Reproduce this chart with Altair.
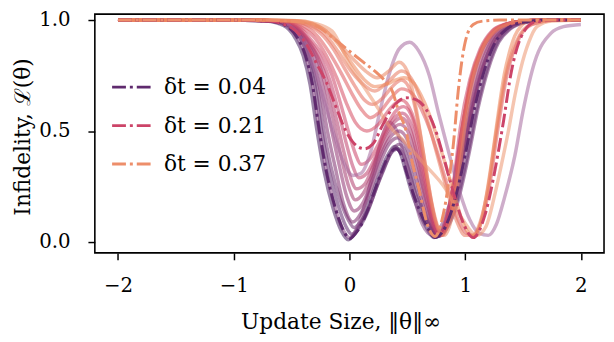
import altair as alt
import pandas as pd

# ---------------- data ----------------
# highlighted dash-dot curves
dt_labels = ["δt = 0.04", "δt = 0.21", "δt = 0.37"]

x_004 = [-2, -1, -0.7, -0.55, -0.45, -0.38, -0.32, -0.26, -0.2, -0.12, -0.05, 0, 0.07, 0.14, 0.21, 0.28, 0.34, 0.40, 0.45, 0.49, 0.55, 0.6, 0.67, 0.74, 0.81, 0.9, 1.0, 1.08, 1.17, 1.26, 1.36, 1.5, 1.7, 2]
y_004 = [1, 1, 0.995, 0.975, 0.92, 0.84, 0.71, 0.5, 0.32, 0.15, 0.05, 0.015, 0.05, 0.12, 0.22, 0.32, 0.39, 0.42, 0.39, 0.32, 0.22, 0.15, 0.07, 0.02, 0.05, 0.17, 0.39, 0.6, 0.78, 0.9, 0.96, 0.99, 1, 1]

x_021 = [-2, -1, -0.7, -0.5, -0.37, -0.28, -0.2, -0.11, -0.04, 0.03, 0.13, 0.2, 0.29, 0.38, 0.49, 0.58, 0.66, 0.74, 0.82, 0.9, 0.98, 1.07, 1.17, 1.26, 1.33, 1.4, 1.48, 1.6, 1.8, 2]
y_021 = [1, 1, 0.995, 0.965, 0.89, 0.8, 0.72, 0.6, 0.51, 0.45, 0.42, 0.44, 0.53, 0.61, 0.65, 0.64, 0.6, 0.51, 0.37, 0.22, 0.09, 0.02, 0.12, 0.33, 0.54, 0.77, 0.92, 0.99, 1, 1]

x_037 = [-2, -1, -0.6, -0.4, -0.26, -0.12, 0.0, 0.12, 0.23, 0.3, 0.37, 0.43, 0.49, 0.53, 0.6, 0.68, 0.74, 0.8, 0.85, 0.9, 0.94, 1.0, 1.07, 1.15, 1.3, 2]
y_037 = [1, 1, 0.998, 0.99, 0.965, 0.91, 0.86, 0.81, 0.765, 0.73, 0.68, 0.58, 0.5, 0.39, 0.24, 0.07, 0.025, 0.1, 0.24, 0.45, 0.68, 0.9, 0.98, 0.995, 1, 1]

dt_x = [x_004, x_021, x_037]
dt_y = [y_004, y_021, y_037]

# background family of curves
bg_names = ["c01", "c02", "c03", "c04", "c05", "c06", "c07", "c08", "c09",
            "c10", "c11", "c12", "c13", "c14", "c15", "c16", "c17", "c18"]

bg_x = [
    [-2, -1, -0.72, -0.57, -0.47, -0.4, -0.34, -0.28, -0.22, -0.14, -0.07, -0.01, 0.06, 0.13, 0.2, 0.27, 0.33, 0.39, 0.44, 0.48, 0.54, 0.59, 0.66, 0.73, 0.8, 0.89, 0.98, 1.06, 1.15, 1.24, 1.34, 1.48, 1.7, 2],
    [-2, -1, -0.68, -0.53, -0.43, -0.36, -0.3, -0.24, -0.18, -0.1, -0.03, 0.02, 0.09, 0.16, 0.23, 0.3, 0.36, 0.42, 0.47, 0.51, 0.57, 0.62, 0.69, 0.76, 0.83, 0.92, 1.02, 1.1, 1.19, 1.28, 1.38, 1.52, 1.72, 2],
    [-2, -1, -0.67, -0.52, -0.42, -0.35, -0.28, -0.22, -0.16, -0.08, -0.01, 0.04, 0.11, 0.18, 0.25, 0.32, 0.38, 0.43, 0.48, 0.52, 0.58, 0.63, 0.7, 0.77, 0.84, 0.93, 1.03, 1.11, 1.2, 1.29, 1.39, 1.53, 1.73, 2],
    [-2, -1, -0.7, -0.55, -0.45, -0.38, -0.32, -0.26, -0.2, -0.12, -0.05, 0.0, 0.07, 0.14, 0.21, 0.28, 0.34, 0.41, 0.48, 0.55, 0.63, 0.72, 0.8, 0.88, 0.97, 1.05, 1.14, 1.23, 1.33, 1.47, 1.7, 2],
    [-2, -1, -0.66, -0.5, -0.4, -0.32, -0.25, -0.19, -0.12, -0.05, 0.03, 0.1, 0.18, 0.26, 0.34, 0.42, 0.5, 0.57, 0.64, 0.7, 0.76, 0.83, 0.92, 1.0, 1.08, 1.17, 1.27, 1.38, 1.52, 1.72, 2],
    [-2, -1, -0.65, -0.49, -0.38, -0.3, -0.23, -0.16, -0.09, -0.02, 0.04, 0.11, 0.19, 0.27, 0.35, 0.43, 0.51, 0.58, 0.65, 0.71, 0.77, 0.84, 0.92, 1.0, 1.08, 1.17, 1.27, 1.38, 1.52, 1.72, 2],
    [-2, -1, -0.64, -0.48, -0.37, -0.28, -0.21, -0.14, -0.07, 0.0, 0.05, 0.12, 0.2, 0.28, 0.36, 0.44, 0.52, 0.59, 0.66, 0.72, 0.77, 0.84, 0.91, 0.98, 1.06, 1.15, 1.25, 1.36, 1.5, 1.7, 2],
    [-2, -1, -0.63, -0.47, -0.36, -0.27, -0.19, -0.12, -0.05, 0.01, 0.06, 0.13, 0.21, 0.29, 0.37, 0.45, 0.53, 0.6, 0.67, 0.72, 0.77, 0.83, 0.9, 0.97, 1.05, 1.14, 1.24, 1.35, 1.5, 1.7, 2],
    [-2, -1, -0.62, -0.46, -0.35, -0.25, -0.17, -0.1, -0.03, 0.03, 0.08, 0.15, 0.23, 0.31, 0.39, 0.46, 0.54, 0.61, 0.68, 0.73, 0.78, 0.84, 0.9, 0.97, 1.05, 1.14, 1.24, 1.35, 1.5, 1.7, 2],
    [-2, -1, -0.6, -0.44, -0.33, -0.23, -0.15, -0.08, -0.01, 0.05, 0.1, 0.17, 0.25, 0.33, 0.4, 0.47, 0.55, 0.62, 0.68, 0.73, 0.78, 0.84, 0.9, 0.96, 1.04, 1.13, 1.23, 1.34, 1.5, 1.7, 2],
    [-2, -1, -0.62, -0.48, -0.38, -0.29, -0.21, -0.13, -0.05, 0.03, 0.1, 0.18, 0.26, 0.34, 0.43, 0.52, 0.6, 0.69, 0.77, 0.86, 0.95, 1.04, 1.12, 1.2, 1.27, 1.34, 1.43, 1.5, 1.6, 1.74, 1.85, 2.0],
    [-2, -1, -0.58, -0.42, -0.3, -0.2, -0.11, -0.03, 0.05, 0.15, 0.25, 0.35, 0.45, 0.54, 0.62, 0.69, 0.75, 0.8, 0.86, 0.92, 0.98, 1.05, 1.14, 1.24, 1.35, 1.5, 1.7, 2],
    [-2, -1, -0.56, -0.4, -0.28, -0.17, -0.07, 0.02, 0.1, 0.18, 0.27, 0.36, 0.45, 0.54, 0.62, 0.7, 0.78, 0.86, 0.94, 1.01, 1.07, 1.14, 1.21, 1.28, 1.36, 1.45, 1.58, 1.8, 2],
    [-2, -1, -0.54, -0.38, -0.25, -0.14, -0.04, 0.05, 0.13, 0.2, 0.29, 0.37, 0.45, 0.53, 0.6, 0.67, 0.74, 0.8, 0.86, 0.92, 0.98, 1.05, 1.14, 1.24, 1.35, 1.5, 1.7, 2],
    [-2, -1, -0.52, -0.36, -0.22, -0.1, 0.0, 0.1, 0.22, 0.33, 0.45, 0.53, 0.61, 0.69, 0.77, 0.85, 0.93, 1.0, 1.06, 1.13, 1.2, 1.27, 1.35, 1.44, 1.57, 1.8, 2],
    [-2, -1, -0.5, -0.34, -0.2, -0.08, 0.04, 0.14, 0.24, 0.34, 0.43, 0.5, 0.57, 0.64, 0.71, 0.77, 0.82, 0.88, 0.94, 1.0, 1.07, 1.16, 1.26, 1.37, 1.5, 1.7, 2],
    [-2, -1, -0.45, -0.3, -0.15, 0.0, 0.15, 0.25, 0.32, 0.48, 0.65, 0.83, 0.98, 1.1, 1.18, 1.25, 1.31, 1.37, 1.43, 1.48, 1.55, 1.62, 1.75, 2],
    [-2, -1, -0.45, -0.32, -0.2, -0.08, 0.04, 0.13, 0.22, 0.32, 0.4, 0.47, 0.55, 0.62, 0.68, 0.74, 0.8, 0.87, 0.93, 0.98, 1.03, 1.07, 1.12, 1.17, 1.22, 1.26, 1.3, 1.34, 1.38, 1.43, 1.48, 1.54, 1.7, 2],
]

bg_y = [
    [1, 1, 0.995, 0.975, 0.92, 0.84, 0.71, 0.5, 0.32, 0.15, 0.05, 0.01, 0.05, 0.12, 0.22, 0.32, 0.39, 0.43, 0.40, 0.33, 0.22, 0.15, 0.07, 0.02, 0.05, 0.17, 0.39, 0.6, 0.78, 0.9, 0.96, 0.99, 1, 1],
    [1, 1, 0.995, 0.975, 0.92, 0.84, 0.71, 0.5, 0.33, 0.17, 0.07, 0.035, 0.07, 0.14, 0.24, 0.33, 0.4, 0.42, 0.39, 0.33, 0.22, 0.15, 0.07, 0.025, 0.06, 0.17, 0.39, 0.6, 0.78, 0.9, 0.96, 0.99, 1, 1],
    [1, 1, 0.995, 0.975, 0.92, 0.84, 0.7, 0.5, 0.34, 0.19, 0.1, 0.065, 0.1, 0.17, 0.27, 0.36, 0.42, 0.44, 0.41, 0.34, 0.23, 0.15, 0.07, 0.025, 0.06, 0.17, 0.39, 0.6, 0.78, 0.9, 0.96, 0.99, 1, 1],
    [1, 1, 0.995, 0.975, 0.92, 0.84, 0.71, 0.5, 0.32, 0.15, 0.05, 0.02, 0.07, 0.18, 0.33, 0.47, 0.54, 0.5, 0.37, 0.22, 0.08, 0.03, 0.08, 0.2, 0.42, 0.62, 0.8, 0.91, 0.97, 0.995, 1, 1],
    [1, 1, 0.995, 0.97, 0.91, 0.82, 0.68, 0.5, 0.33, 0.17, 0.09, 0.13, 0.23, 0.35, 0.44, 0.47, 0.42, 0.3, 0.16, 0.07, 0.03, 0.07, 0.2, 0.42, 0.63, 0.8, 0.91, 0.97, 0.995, 1, 1],
    [1, 1, 0.995, 0.97, 0.91, 0.83, 0.7, 0.52, 0.35, 0.2, 0.14, 0.17, 0.27, 0.39, 0.47, 0.5, 0.45, 0.33, 0.18, 0.08, 0.03, 0.08, 0.22, 0.45, 0.66, 0.82, 0.92, 0.97, 0.995, 1, 1],
    [1, 1, 0.995, 0.97, 0.91, 0.83, 0.71, 0.55, 0.38, 0.24, 0.19, 0.22, 0.31, 0.42, 0.5, 0.53, 0.48, 0.35, 0.19, 0.08, 0.03, 0.09, 0.24, 0.47, 0.68, 0.84, 0.93, 0.98, 0.995, 1, 1],
    [1, 1, 0.995, 0.97, 0.91, 0.83, 0.72, 0.57, 0.41, 0.29, 0.24, 0.26, 0.35, 0.46, 0.53, 0.56, 0.5, 0.36, 0.19, 0.08, 0.03, 0.1, 0.26, 0.5, 0.71, 0.86, 0.94, 0.98, 0.995, 1, 1],
    [1, 1, 0.995, 0.97, 0.91, 0.83, 0.73, 0.6, 0.45, 0.34, 0.29, 0.31, 0.39, 0.49, 0.56, 0.58, 0.52, 0.37, 0.2, 0.08, 0.03, 0.1, 0.26, 0.5, 0.71, 0.86, 0.94, 0.98, 0.995, 1, 1],
    [1, 1, 0.995, 0.97, 0.91, 0.84, 0.75, 0.63, 0.5, 0.4, 0.35, 0.37, 0.44, 0.53, 0.59, 0.61, 0.55, 0.39, 0.21, 0.09, 0.03, 0.1, 0.27, 0.52, 0.73, 0.87, 0.95, 0.98, 0.995, 1, 1],
    [1, 1, 0.995, 0.96, 0.88, 0.76, 0.62, 0.48, 0.36, 0.3, 0.31, 0.4, 0.58, 0.75, 0.87, 0.9, 0.86, 0.75, 0.58, 0.4, 0.23, 0.1, 0.04, 0.03, 0.08, 0.2, 0.39, 0.59, 0.81, 0.94, 0.97, 0.98],
    [1, 1, 0.995, 0.97, 0.92, 0.84, 0.74, 0.63, 0.54, 0.5, 0.53, 0.6, 0.64, 0.58, 0.42, 0.22, 0.08, 0.03, 0.1, 0.27, 0.52, 0.73, 0.87, 0.95, 0.98, 0.995, 1, 1],
    [1, 1, 0.995, 0.975, 0.93, 0.85, 0.76, 0.67, 0.6, 0.56, 0.59, 0.65, 0.69, 0.67, 0.6, 0.5, 0.37, 0.23, 0.1, 0.04, 0.03, 0.09, 0.25, 0.5, 0.75, 0.9, 0.98, 1, 1],
    [1, 1, 0.997, 0.98, 0.94, 0.87, 0.78, 0.7, 0.64, 0.62, 0.65, 0.7, 0.73, 0.68, 0.52, 0.3, 0.1, 0.03, 0.1, 0.27, 0.52, 0.73, 0.87, 0.95, 0.98, 0.995, 1, 1],
    [1, 1, 0.997, 0.98, 0.94, 0.86, 0.78, 0.72, 0.68, 0.72, 0.77, 0.74, 0.65, 0.52, 0.37, 0.22, 0.09, 0.03, 0.03, 0.09, 0.25, 0.5, 0.75, 0.9, 0.98, 1, 1],
    [1, 1, 0.997, 0.985, 0.95, 0.89, 0.82, 0.77, 0.74, 0.77, 0.81, 0.77, 0.62, 0.4, 0.18, 0.06, 0.03, 0.1, 0.28, 0.53, 0.74, 0.88, 0.95, 0.98, 0.995, 1, 1],
    [1, 1, 0.997, 0.985, 0.95, 0.8, 0.68, 0.6, 0.54, 0.45, 0.35, 0.24, 0.1, 0.03, 0.07, 0.2, 0.34, 0.49, 0.66, 0.78, 0.9, 0.97, 0.995, 1],
    [1, 1, 0.997, 0.985, 0.95, 0.88, 0.79, 0.73, 0.7, 0.71, 0.73, 0.74, 0.72, 0.66, 0.59, 0.5, 0.4, 0.28, 0.17, 0.09, 0.04, 0.025, 0.06, 0.17, 0.33, 0.48, 0.63, 0.76, 0.85, 0.93, 0.97, 0.995, 1, 1],
]

# ---------------- styles ----------------
dt_colors = ["#5f2a6e", "#cc4468", "#ed8e6a"]
bg_colors = ["#4b2362", "#5e2a6e", "#6c2b6d", "#8a4a86", "#7d2d6e", "#8f3371",
             "#a2386e", "#b13c6c", "#c0406b", "#cc4468", "#a56a9e", "#d64d63",
             "#df5a5e", "#e56b5d", "#e8795f", "#ea8563", "#ec9570", "#ec8559"]
bg_opacity = [0.55, 0.55, 0.5, 0.35, 0.45, 0.4, 0.35, 0.35, 0.35, 0.35, 0.4,
              0.3, 0.3, 0.3, 0.3, 0.3, 0.4, 0.85]
bg_width = [3.5, 3.5, 3.5, 2.5, 3, 3, 3, 3, 3, 3, 2.5, 3, 3, 3, 3, 3, 2.5, 3.5]

FONT = "DejaVu Serif"

# ---------------- tables ----------------
bg_rows = []
for name, xs, ys in zip(bg_names, bg_x, bg_y):
    for i, (xv, yv) in enumerate(zip(xs, ys)):
        bg_rows.append({"curve": name, "x": xv, "y": yv, "i": i})
bg_df = pd.DataFrame(bg_rows)

dt_rows = []
for lab, xs, ys in zip(dt_labels, dt_x, dt_y):
    for i, (xv, yv) in enumerate(zip(xs, ys)):
        dt_rows.append({"label": lab, "x": xv, "y": yv, "i": i})
dt_df = pd.DataFrame(dt_rows)

x_scale = alt.Scale(domain=[-2.2, 2.2], nice=False, zero=False)
y_scale = alt.Scale(domain=[-0.0489, 1.0267], nice=False, zero=False)

x_axis = alt.Axis(values=[-2, -1, 0, 1, 2], format="d",
                  title="Update Size, ‖θ‖∞",
                  titleX=249, titleY=77, titleAlign="center",
                  titleBaseline="alphabetic", labelPadding=16)
y_axis = alt.Axis(values=[0, 0.5, 1.0], format=".1f",
                  title="Infidelity, ℒ(θ)", titleAngle=270,
                  titleX=-66, titleY=124, titleAlign="center",
                  titleBaseline="alphabetic", labelPadding=18)

bg = alt.Chart(bg_df).mark_line(interpolate="monotone").encode(
    x=alt.X("x:Q", scale=x_scale, axis=x_axis),
    y=alt.Y("y:Q", scale=y_scale, axis=y_axis),
    color=alt.Color("curve:N", scale=alt.Scale(domain=bg_names, range=bg_colors), legend=None),
    opacity=alt.Opacity("curve:N", scale=alt.Scale(domain=bg_names, range=bg_opacity), legend=None),
    strokeWidth=alt.StrokeWidth("curve:N", scale=alt.Scale(domain=bg_names, range=bg_width), legend=None),
    order=alt.Order("i:Q"),
)

dt = alt.Chart(dt_df).mark_line(
    interpolate="monotone", strokeWidth=3, strokeDash=[14, 4, 3, 4]
).encode(
    x=alt.X("x:Q", scale=x_scale, axis=x_axis),
    y=alt.Y("y:Q", scale=y_scale, axis=y_axis),
    color=alt.Color(
        "label:N",
        scale=alt.Scale(domain=dt_labels, range=dt_colors),
        legend=alt.Legend(
            title=None, orient="none", legendX=16, legendY=52,
            symbolType="stroke", symbolSize=1681, symbolStrokeWidth=3,
            symbolDash=[14, 4, 3, 4], labelFont=FONT, labelFontSize=22,
            labelColor="black", rowPadding=6, labelOffset=10, padding=0,
            labelLimit=400,
        ),
    ),
    order=alt.Order("i:Q"),
)

chart = (
    alt.layer(bg, dt)
    .resolve_scale(color="independent", opacity="independent", strokeWidth="independent")
    .properties(
        width=516, height=242,
        padding={"left": 88, "top": 4, "right": 2, "bottom": 80},
        autosize=alt.AutoSizeParams(type="none"),
    )
    .configure_view(stroke="black", strokeWidth=1.6)
    .configure_axis(
        domain=False, grid=False, ticks=True, tickColor="black", tickWidth=1.5,
        tickSize=7, labelFont=FONT, labelFontSize=20, labelColor="black",
        titleFont=FONT, titleFontSize=22, titleFontWeight="normal", titleColor="black",
    )
)

chart.save("out.html", embed_options={"renderer": "svg", "actions": False})
